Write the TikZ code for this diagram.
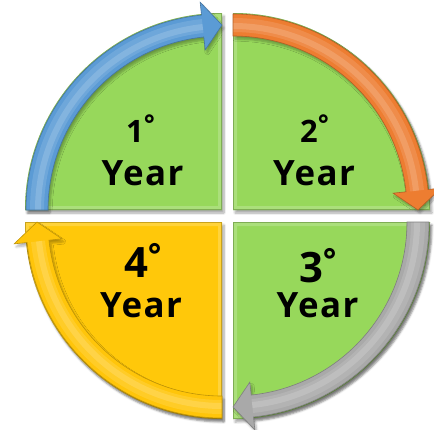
\documentclass[tikz,border=0pt]{standalone}
\usepackage{fontspec}
\setmainfont{Open Sans}
\usetikzlibrary{shadows.blur}
\definecolor{qgreen}{HTML}{97D85B}
\definecolor{qyellow}{HTML}{FFC80A}
\definecolor{qblue}{HTML}{5B9BD5}
\definecolor{qorange}{HTML}{ED7D31}
\definecolor{qgray}{HTML}{A9A9A9}
\definecolor{qyellowarr}{HTML}{FFC50A}
\tikzset{
  quadfill/.style={fill=#1, blur shadow={shadow xshift=2bp, shadow yshift=-3bp, shadow blur steps=8, shadow opacity=35}},
  arrowfill/.style={fill=#1, blur shadow={shadow xshift=2bp, shadow yshift=-3bp, shadow blur steps=6, shadow opacity=30}},
  yeartext/.style={anchor=base, inner sep=0pt, font=\fontsize{35}{35}\selectfont\bfseries\addfontfeature{LetterSpace=4}},
  smalldigit/.style={anchor=base, inner sep=0pt, font=\fontsize{31}{31}\selectfont\bfseries},
  bigdigit/.style={anchor=base, inner sep=0pt, font=\fontsize{42}{42}\selectfont\bfseries}
}
\begin{document}
\begin{tikzpicture}[x=1bp, y=-1bp]
\useasboundingbox (0,0) rectangle (434,429);
\foreach \px/\py/\a/\fc/\ac in {222/210/180/qgreen/qblue, 233/210/270/qgreen/qorange, 233/222/0/qgreen/qgray, 222/222/90/qyellow/qyellowarr} {
  \begin{scope}[shift={(\px,\py)}]
    \pgfmathsetmacro\e{\a+90}
    \pgfmathsetmacro\b{\a+84}
    \path[quadfill=\fc] (0,0) -- (\a:197) arc[start angle=\a, end angle=\e, radius=197] -- cycle;
    \begin{scope}
      \clip (0,0) -- (\a:197) arc[start angle=\a, end angle=\e, radius=197] -- cycle;
      \draw[line width=8bp, white, opacity=.2] (0,0) -- (\a:197) arc[start angle=\a, end angle=\e, radius=197] -- cycle;
      \draw[line width=1.6bp, \fc!65!black, opacity=.6] (0,0) -- (\a:197) arc[start angle=\a, end angle=\e, radius=197] -- cycle;
    \end{scope}
    \path[arrowfill=\ac] (\a:174) arc[start angle=\a, end angle=\b, radius=174] -- (\b:161) -- (\e:185) -- (\b:209) -- (\b:196) arc[start angle=\b, end angle=\a, radius=196] -- cycle;
    \draw[white, opacity=.12, line width=14bp] (\a:185) arc[start angle=\a, end angle=\b, radius=185];
    \draw[white, opacity=.15, line width=6bp] (\a:184) arc[start angle=\a, end angle=\b, radius=184];
    \draw[\ac!75!black, line width=.6bp] (\a:174) arc[start angle=\a, end angle=\b, radius=174] -- (\b:161) -- (\e:185) -- (\b:209) -- (\b:196) arc[start angle=\b, end angle=\a, radius=196] -- cycle;
  \end{scope}
}
\node[smalldigit] (d1) at (135,142) {1\rlap{\raisebox{9bp}{\fontsize{26}{26}\selectfont °}}};
\node[yeartext] (y1) at (142.5,185) {Year};
\node[smalldigit] (d2) at (309,142) {2\rlap{\raisebox{9bp}{\fontsize{26}{26}\selectfont °}}};
\node[yeartext] (y2) at (314,185) {Year};
\node[bigdigit] (d3) at (311,282) {3\rlap{\raisebox{11bp}{\fontsize{32}{32}\selectfont °}}};
\node[yeartext] (y3) at (317.5,317) {Year};
\node[bigdigit] (d4) at (136,277) {4\rlap{\raisebox{11bp}{\fontsize{32}{32}\selectfont °}}};
\node[yeartext] (y4) at (141,317) {Year};
\end{tikzpicture}
\end{document}
